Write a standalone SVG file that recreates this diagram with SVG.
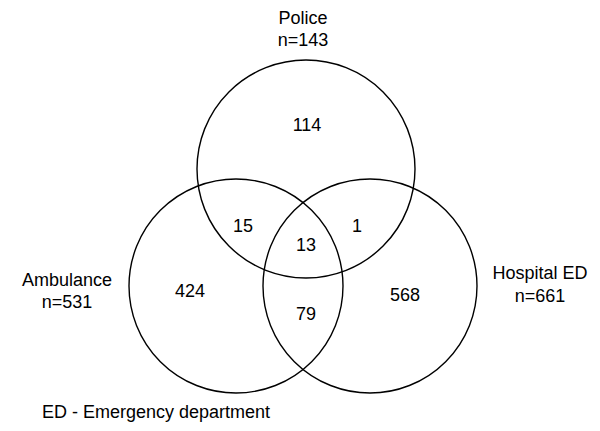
<svg xmlns="http://www.w3.org/2000/svg" width="600" height="431" viewBox="0 0 600 431">
<style>
.c{fill:none;stroke:#000;stroke-width:1.4}
text{font-family:"Liberation Sans",Arial,sans-serif;font-size:18px;fill:#000;text-anchor:middle}
</style>
<rect width="600" height="431" fill="#fff"/>
<g id="connectors"></g>
<g id="police">
<circle class="c" cx="306" cy="169" r="109"/>
<text x="303" y="24">Police</text>
<text x="303" y="46">n=143</text>
</g>
<g id="ambulance">
<circle class="c" cx="236" cy="286" r="107"/>
<text x="67" y="286">Ambulance</text>
<text x="67" y="308">n=531</text>
</g>
<g id="hospital">
<circle class="c" cx="370" cy="286" r="107"/>
<text x="540" y="279">Hospital ED</text>
<text x="540" y="302">n=661</text>
</g>
<g id="counts">
<text x="307" y="131">114</text>
<text x="243" y="232">15</text>
<text x="357" y="232">1</text>
<text x="306" y="251">13</text>
<text x="190" y="297">424</text>
<text x="405" y="301">568</text>
<text x="306" y="320">79</text>
</g>
<text x="42" y="418" style="text-anchor:start">ED - Emergency department</text>
</svg>
